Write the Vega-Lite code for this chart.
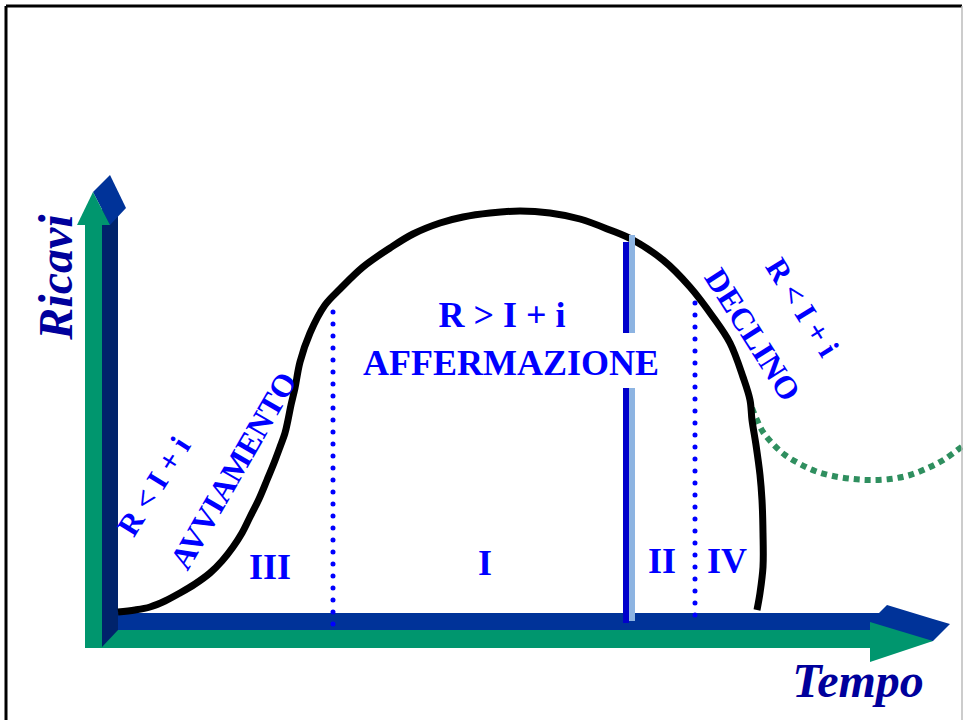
{
  "$schema": "https://vega.github.io/schema/vega-lite/v6.json",
  "width": 963,
  "height": 720,
  "padding": 0,
  "autosize": {"type": "none"},
  "background": "white",
  "config": {"view": {"stroke": null}},
  "datasets": {
    "blueH": [{"t": 0, "t2": 772, "r": 0, "r2": -17}],
    "blueHead": [{"t": 752, "r": -9, "r2": -32}, {"t": 769, "r": 8, "r2": -32}, {"t": 815, "r": -6, "r2": -28}, {"t": 832, "r": -11, "r2": -11}],
    "greenH": [{"t": -33, "t2": 752, "r": -17, "r2": -35}],
    "greenHead": [{"t": 752, "r": -9, "r2": -49}, {"t": 815, "r": -28, "r2": -28}],
    "navySide": [{"t": -16, "r": 405, "r2": -34}, {"t": 0, "r": 405, "r2": -17}],
    "blueVHead": [{"t": -25, "r": 421, "r2": 421}, {"t": -8, "r": 438, "r2": 388}, {"t": 8, "r": 405, "r2": 405}],
    "greenV": [{"t": -33, "t2": -16, "r": 388, "r2": -35}],
    "greenVHead": [{"t": -41, "r": 388, "r2": 388}, {"t": -25, "r": 421, "r2": 388}, {"t": -8, "r": 388, "r2": 388}],
    "dotted": [{"t": 215, "t2": 215, "r": 301, "r2": -15}, {"t": 577, "t2": 577, "r": 310, "r2": -7}],
    "barDark": [{"t": 505, "t2": 511, "r": 371, "r2": 280}, {"t": 505, "t2": 511, "r": 225, "r2": -10}],
    "barLight": [{"t": 511, "t2": 517, "r": 378, "r2": 280}, {"t": 511, "t2": 517, "r": 225, "r2": -8}],
    "curve": [
      {"k": 1, "t": 0, "r": 1}, {"k": 2, "t": 17, "r": 3}, {"k": 3, "t": 32, "r": 6}, {"k": 4, "t": 47, "r": 12},
      {"k": 5, "t": 62, "r": 20}, {"k": 6, "t": 77, "r": 29}, {"k": 7, "t": 92, "r": 40}, {"k": 8, "t": 104, "r": 52},
      {"k": 9, "t": 115, "r": 66}, {"k": 10, "t": 124, "r": 80}, {"k": 11, "t": 132, "r": 96}, {"k": 12, "t": 141, "r": 114},
      {"k": 13, "t": 149, "r": 133}, {"k": 14, "t": 156, "r": 150}, {"k": 15, "t": 162, "r": 166}, {"k": 16, "t": 167, "r": 180},
      {"k": 17, "t": 170, "r": 193}, {"k": 18, "t": 173, "r": 208}, {"k": 19, "t": 177, "r": 225}, {"k": 20, "t": 182, "r": 251},
      {"k": 21, "t": 192, "r": 280}, {"k": 22, "t": 207, "r": 308}, {"k": 23, "t": 222, "r": 324}, {"k": 24, "t": 245, "r": 346},
      {"k": 25, "t": 272, "r": 365}, {"k": 26, "t": 295, "r": 379}, {"k": 27, "t": 322, "r": 390}, {"k": 28, "t": 345, "r": 396},
      {"k": 29, "t": 372, "r": 400}, {"k": 30, "t": 402, "r": 402}, {"k": 31, "t": 432, "r": 400}, {"k": 32, "t": 462, "r": 394},
      {"k": 33, "t": 492, "r": 383}, {"k": 34, "t": 515, "r": 373}, {"k": 35, "t": 545, "r": 353}, {"k": 36, "t": 572, "r": 326},
      {"k": 37, "t": 595, "r": 296}, {"k": 38, "t": 612, "r": 270}, {"k": 39, "t": 625, "r": 236}, {"k": 40, "t": 632, "r": 213},
      {"k": 41, "t": 634, "r": 193}, {"k": 42, "t": 638, "r": 168}, {"k": 43, "t": 642, "r": 138}, {"k": 44, "t": 644, "r": 113},
      {"k": 45, "t": 645, "r": 80}, {"k": 46, "t": 645, "r": 46}, {"k": 47, "t": 642, "r": 20}, {"k": 48, "t": 639, "r": 3}
    ],
    "greenCurve": [
      {"k": 1, "t": 634, "r": 205}, {"k": 2, "t": 639, "r": 193}, {"k": 3, "t": 645, "r": 181}, {"k": 4, "t": 654, "r": 170},
      {"k": 5, "t": 667, "r": 158}, {"k": 6, "t": 682, "r": 149}, {"k": 7, "t": 697, "r": 142}, {"k": 8, "t": 715, "r": 137},
      {"k": 9, "t": 735, "r": 134}, {"k": 10, "t": 752, "r": 133}, {"k": 11, "t": 772, "r": 134}, {"k": 12, "t": 792, "r": 138},
      {"k": 13, "t": 812, "r": 146}, {"k": 14, "t": 827, "r": 154}, {"k": 15, "t": 846, "r": 168}
    ],
    "mainText": [
      {"t": 384, "r": 286, "label": "R > I + i"},
      {"t": 393, "r": 238, "label": "AFFERMAZIONE"},
      {"t": 152, "r": 34, "label": "III"},
      {"t": 367, "r": 38, "label": "I"},
      {"t": 544, "r": 40, "label": "II"},
      {"t": 609, "r": 40, "label": "IV"}
    ],
    "ricavi": [{"t": -46, "r": 336, "label": "Ricavi"}],
    "tempo": [{"t": 740, "r": -84, "label": "Tempo"}],
    "leftCond": [{"t": 37, "r": 126, "label": "R < I + i"}],
    "avviamento": [{"t": 116, "r": 142, "label": "AVVIAMENTO"}],
    "declino": [{"t": 634, "r": 278, "label": "DECLINO"}],
    "rightCond": [{"t": 683, "r": 305, "label": "R < I + i"}],
    "frameBlack": [{"t": -112, "t2": 844, "r": 607, "r2": 607}, {"t": -112, "t2": -112, "r": 607, "r2": -107}],
    "frameGrey": [{"t": 844, "t2": 844, "r": 607, "r2": -107}]
  },
  "encoding": {
    "x": {"field": "t", "type": "quantitative", "scale": {"domain": [-118, 845], "nice": false, "zero": false}, "axis": null},
    "y": {"field": "r", "type": "quantitative", "scale": {"domain": [-107, 613], "nice": false, "zero": false}, "axis": null}
  },
  "layer": [
    {"data": {"name": "blueH"}, "mark": {"type": "rect", "color": "#003399"}, "encoding": {"x2": {"field": "t2"}, "y2": {"field": "r2"}}},
    {"data": {"name": "blueHead"}, "mark": {"type": "area", "color": "#003399"}, "encoding": {"y2": {"field": "r2"}}},
    {"data": {"name": "greenH"}, "mark": {"type": "rect", "color": "#00966E"}, "encoding": {"x2": {"field": "t2"}, "y2": {"field": "r2"}}},
    {"data": {"name": "greenHead"}, "mark": {"type": "area", "color": "#00966E"}, "encoding": {"y2": {"field": "r2"}}},
    {"data": {"name": "navySide"}, "mark": {"type": "area", "color": "#00236B"}, "encoding": {"y2": {"field": "r2"}}},
    {"data": {"name": "blueVHead"}, "mark": {"type": "area", "color": "#003399"}, "encoding": {"y2": {"field": "r2"}}},
    {"data": {"name": "greenV"}, "mark": {"type": "rect", "color": "#00966E"}, "encoding": {"x2": {"field": "t2"}, "y2": {"field": "r2"}}},
    {"data": {"name": "greenVHead"}, "mark": {"type": "area", "color": "#00966E"}, "encoding": {"y2": {"field": "r2"}}},
    {"data": {"name": "dotted"}, "mark": {"type": "rule", "color": "#0000FF", "strokeWidth": 5, "strokeDash": [0.1, 11.9], "strokeCap": "round"}, "encoding": {"x2": {"field": "t2"}, "y2": {"field": "r2"}}},
    {"data": {"name": "greenCurve"}, "mark": {"type": "line", "color": "#2F8F5F", "strokeWidth": 6, "strokeDash": [6, 5], "strokeCap": "butt", "interpolate": "catmull-rom"}, "encoding": {"order": {"field": "k", "type": "quantitative"}}},
    {"data": {"name": "curve"}, "mark": {"type": "line", "color": "#000000", "strokeWidth": 7, "interpolate": "catmull-rom"}, "encoding": {"order": {"field": "k", "type": "quantitative"}}},
    {"data": {"name": "barDark"}, "mark": {"type": "rect", "color": "#0000CC"}, "encoding": {"x2": {"field": "t2"}, "y2": {"field": "r2"}}},
    {"data": {"name": "barLight"}, "mark": {"type": "rect", "color": "#8DB4E2"}, "encoding": {"x2": {"field": "t2"}, "y2": {"field": "r2"}}},
    {"data": {"name": "mainText"}, "mark": {"type": "text", "font": "Liberation Serif", "fontWeight": "bold", "fontSize": 36, "color": "#0000FF", "align": "center", "baseline": "alphabetic"}, "encoding": {"text": {"field": "label"}}},
    {"data": {"name": "ricavi"}, "mark": {"type": "text", "font": "Liberation Serif", "fontWeight": "bold", "fontStyle": "italic", "fontSize": 48, "color": "#00009C", "align": "center", "baseline": "alphabetic", "angle": 270}, "encoding": {"text": {"field": "label"}}},
    {"data": {"name": "tempo"}, "mark": {"type": "text", "font": "Liberation Serif", "fontWeight": "bold", "fontStyle": "italic", "fontSize": 48, "color": "#00009C", "align": "center", "baseline": "alphabetic"}, "encoding": {"text": {"field": "label"}}},
    {"data": {"name": "leftCond"}, "mark": {"type": "text", "font": "Liberation Serif", "fontWeight": "bold", "fontSize": 31, "color": "#0000FF", "align": "center", "baseline": "middle", "angle": 302}, "encoding": {"text": {"field": "label"}}},
    {"data": {"name": "avviamento"}, "mark": {"type": "text", "font": "Liberation Serif", "fontWeight": "bold", "fontSize": 32, "color": "#0000FF", "align": "center", "baseline": "middle", "angle": 300}, "encoding": {"text": {"field": "label"}}},
    {"data": {"name": "declino"}, "mark": {"type": "text", "font": "Liberation Serif", "fontWeight": "bold", "fontSize": 32, "color": "#0000FF", "align": "center", "baseline": "middle", "angle": 57.6}, "encoding": {"text": {"field": "label"}}},
    {"data": {"name": "rightCond"}, "mark": {"type": "text", "font": "Liberation Serif", "fontWeight": "bold", "fontSize": 31, "color": "#0000FF", "align": "center", "baseline": "middle", "angle": 58}, "encoding": {"text": {"field": "label"}}},
    {"data": {"name": "frameBlack"}, "mark": {"type": "rule", "color": "#000000", "strokeWidth": 3}, "encoding": {"x2": {"field": "t2"}, "y2": {"field": "r2"}}},
    {"data": {"name": "frameGrey"}, "mark": {"type": "rule", "color": "#BBBBBB", "strokeWidth": 1.5}, "encoding": {"x2": {"field": "t2"}, "y2": {"field": "r2"}}}
  ]
}
